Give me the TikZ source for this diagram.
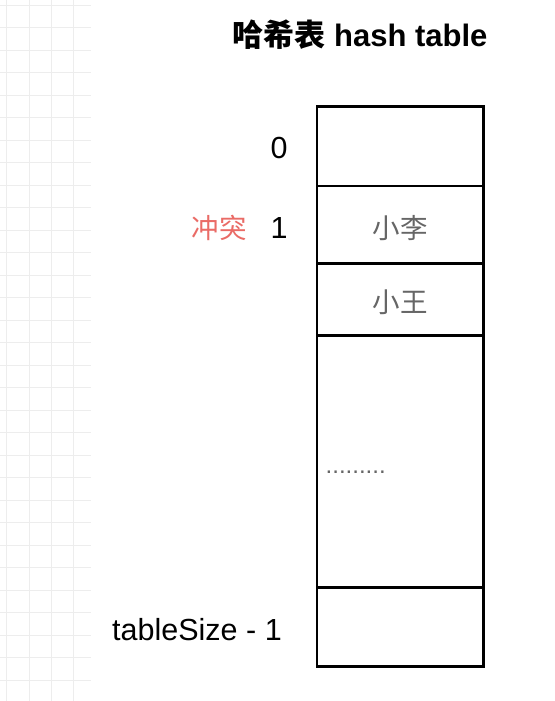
\documentclass[tikz,border=0pt]{standalone}
\usepackage{fontspec}
\setmainfont{Liberation Sans}
\newfontfamily\cjk{Noto Sans CJK SC}
\definecolor{gridc}{HTML}{EDEDED}
\definecolor{txtgray}{HTML}{666666}
\definecolor{conflict}{HTML}{EA6B66}
\tikzset{
  cell/.style={draw=black, line width=2.9pt, minimum width=166.5pt, inner sep=0pt, outer sep=0pt, fill=white},
  lbl/.style={inner sep=0pt, font=\fontsize{30.5}{33}\selectfont},
  cjklbl/.style={inner sep=0pt, font=\cjk\fontsize{27.5}{30}\selectfont},
}
\begin{document}
\begin{tikzpicture}[x=1pt,y=-1pt]
\useasboundingbox (0,0) rectangle (554,701);
\fill[white] (0,0) rectangle (554,701);
% background grid
\begin{scope}
\clip (0,0) rectangle (91,701);
\foreach \i in {0,...,4} \draw[gridc, line width=0.8pt] (6.6+22.4*\i,0) -- (6.6+22.4*\i,701);
\foreach \j in {0,...,31} \draw[gridc, line width=0.8pt] (0,5+22.5*\j) -- (91,5+22.5*\j);
\end{scope}
% title
\node[inner sep=0pt, font=\bfseries\fontsize{31}{34}\selectfont] (title) at (360,35) {{\cjk\bfseries 哈希表} hash table};
% table cells
\node[cell, minimum height=79.3pt] (c0) at (400.25,146.35) {};
\node[cell, minimum height=77.3pt] (c1) at (400.25,224.65) {};
\node[cell, minimum height=72.4pt] (c2) at (400.25,299.5) {};
\node[cell, minimum height=251.6pt] (c3) at (400.25,461.5) {};
\node[cell, minimum height=79.4pt] (c4) at (400.25,627) {};
% cell contents
\node[cjklbl, text=txtgray] (li) at (400,228) {小李};
\node[cjklbl, text=txtgray] (wang) at (400,302) {小王};
\node[inner sep=0pt, text=txtgray, font=\fontsize{24}{26}\selectfont, anchor=base west] (dots) at (325.5,473.5) {.........};
% index labels
\node[lbl] (i0) at (279,148) {0};
\node[lbl] (i1) at (279,228) {1};
\node[cjklbl, text=conflict] (chong) at (219,228) {冲突};
\node[lbl] (ilast) at (197,630) {tableSize - 1};
\end{tikzpicture}
\end{document}
